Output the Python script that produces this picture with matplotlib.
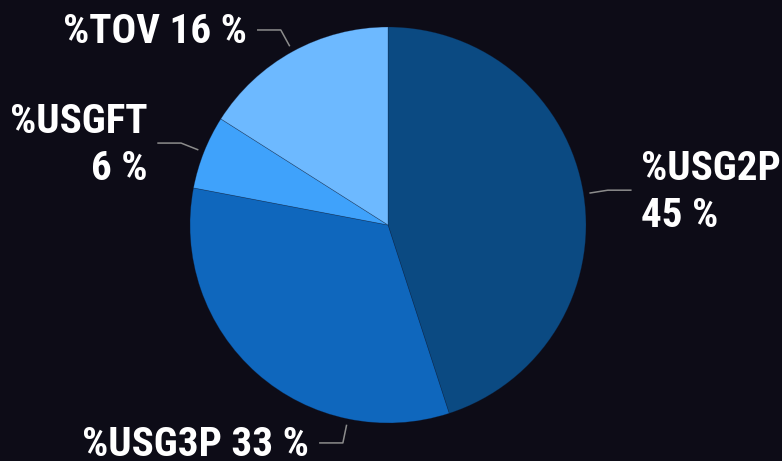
import numpy as np
import matplotlib; matplotlib.use('Agg')
import matplotlib.pyplot as plt

# slice data (clockwise from 12 o'clock)
labels = ['%USG2P', '%USG3P', '%USGFT', '%TOV']
values = [45, 33, 6, 16]
colors = ['#0b4a82', '#0f67bd', '#3fa2fb', '#6db9ff']
BG = '#0d0c17'; LINE = '#8c8c8c'

# layout tweaks for labels
two_line = {'%USG2P', '%USGFT'}
angle_shift = {'%USG3P': 29.7}   # label for USG3P sits nearer the bottom

plt.rcParams['font.family'] = ['Roboto Condensed', 'DejaVu Sans']

fig = plt.figure(figsize=(7.82, 4.61), dpi=100, facecolor=BG)
ax = fig.add_axes([0, 0, 1, 1]); ax.set_facecolor(BG)
wedges, _ = ax.pie(values, colors=colors, startangle=90, counterclock=False,
                   wedgeprops=dict(edgecolor=(0.05, 0.1, 0.2, 0.35), linewidth=0.5))
ax.set_aspect('auto')
ax.set_xlim(-388/198, (782-388)/198); ax.set_ylim(-236/198, 225/198)
ax.axis('off')

for w, lab, v in zip(wedges, labels, values):
    ang = (w.theta1 + w.theta2) / 2 + angle_shift.get(lab, 0)
    a = np.deg2rad(ang); c, s = np.cos(a), np.sin(a)
    x0, y0 = 1.03*c, 1.03*s
    x1, y1 = 1.124*c, 1.124*s
    side = 1 if c >= 0 else -1
    x2 = x1 + side*0.12
    ax.plot([x0, x1, x2], [y0, y1, y1], color=LINE, lw=1.1, solid_capstyle='butt')
    txt = f'{lab}\n{v} %' if lab in two_line else f'{lab} {v} %'
    ax.text(x2 + side*0.05, y1 - 0.01, txt, color='white', fontsize=29.5, fontweight='bold',
            fontstretch='condensed', ha='left' if side > 0 else 'right', va='center',
            linespacing=1.3, multialignment='left' if side > 0 else 'right')

fig.savefig('out.png', dpi=100, facecolor=BG)
